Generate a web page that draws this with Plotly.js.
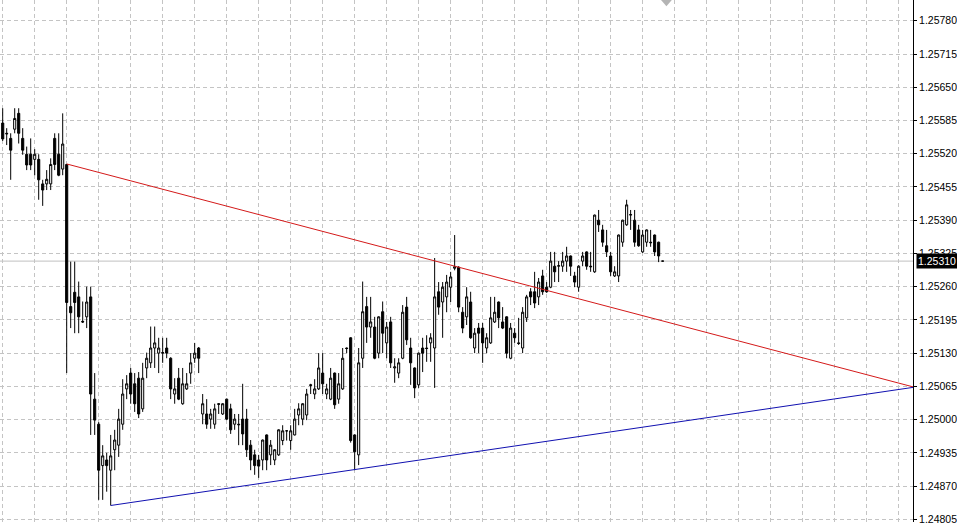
<!DOCTYPE html>
<html>
<head>
<meta charset="utf-8">
<script src="https://cdn.plot.ly/plotly-3.0.1.min.js"></script>
<style>
  html, body { margin: 0; padding: 0; background: #ffffff; }
  #chart { width: 957px; height: 524px; }
</style>
</head>
<body>
<div id="chart"></div>
<script>
// ---- DATA ----
const openPrices = [
1.25580,1.25560,1.25550,1.25568,1.25599,1.25550,1.25519,1.25519,1.25509,1.25509,
1.25461,1.25461,1.25461,1.25550,1.25519,1.25490,1.25499,1.25221,1.25249,1.25240,
1.25192,1.25201,1.25240,1.25040,1.24991,1.24910,1.24921,1.24901,1.24941,1.24950,
1.24991,1.25060,1.25091,1.25070,1.25081,1.25021,1.25101,1.25111,1.25140,1.25130,
1.25130,1.25140,1.25120,1.25050,1.25081,1.25031,1.25060,1.25091,1.25120,1.25140,
1.25011,1.25011,1.25001,1.24991,1.25031,1.25011,1.25040,1.25021,1.24991,1.24991,
1.25001,1.25001,1.24950,1.24931,1.24921,1.24921,1.24970,1.24931,1.24921,1.24931,
1.24959,1.24978,1.24959,1.24970,1.25009,1.25001,1.25009,1.25068,1.25050,1.25060,
1.25091,1.25050,1.25040,1.25091,1.25040,1.25060,1.25140,1.25160,1.24970,1.24931,
1.25120,1.25221,1.25181,1.25181,1.25130,1.25211,1.25150,1.25191,1.25101,1.25091,
1.25120,1.25220,1.25140,1.25101,1.25068,1.25140,1.25140,1.25150,1.25140,1.25250,
1.25230,1.25240,1.25259,1.25296,1.25298,1.25210,1.25201,1.25230,1.25140,1.25179,
1.25179,1.25140,1.25150,1.25191,1.25230,1.25191,1.25201,1.25120,1.25169,1.25150,
1.25140,1.25199,1.25250,1.25250,1.25240,1.25281,1.25259,1.25259,1.25300,1.25300,
1.25300,1.25310,1.25320,1.25281,1.25259,1.25310,1.25328,1.25300,1.25289,1.25390,
1.25371,1.25340,1.25320,1.25281,1.25281,1.25347,1.25381,1.25400,1.25390,1.25371,
1.25328,1.25347,1.25347,1.25361,1.25347,1.25310];
const highPrices = [
1.25609,1.25570,1.25560,1.25609,1.25609,1.25570,1.25534,1.25550,1.25529,1.25519,
1.25469,1.25488,1.25511,1.25560,1.25560,1.25599,1.25500,1.25309,1.25309,1.25270,
1.25231,1.25260,1.25260,1.25091,1.24995,1.24950,1.24935,1.24970,1.24980,1.25021,
1.25079,1.25087,1.25101,1.25091,1.25093,1.25111,1.25131,1.25182,1.25182,1.25160,
1.25160,1.25160,1.25122,1.25081,1.25101,1.25101,1.25091,1.25130,1.25150,1.25142,
1.25050,1.25040,1.25021,1.25031,1.25032,1.25032,1.25041,1.25031,1.25011,1.25011,
1.25070,1.25021,1.24960,1.24941,1.24931,1.24961,1.24971,1.24960,1.24942,1.24981,
1.24989,1.24979,1.24989,1.25021,1.25032,1.25032,1.25060,1.25070,1.25079,1.25130,
1.25130,1.25070,1.25101,1.25092,1.25091,1.25140,1.25141,1.25161,1.24971,1.25140,
1.25270,1.25240,1.25240,1.25201,1.25202,1.25231,1.25191,1.25201,1.25120,1.25120,
1.25224,1.25240,1.25160,1.25102,1.25131,1.25160,1.25165,1.25169,1.25316,1.25269,
1.25269,1.25283,1.25289,1.25361,1.25300,1.25220,1.25259,1.25250,1.25179,1.25189,
1.25189,1.25169,1.25240,1.25240,1.25231,1.25220,1.25202,1.25189,1.25179,1.25199,
1.25220,1.25244,1.25257,1.25289,1.25277,1.25293,1.25269,1.25328,1.25328,1.25310,
1.25328,1.25338,1.25321,1.25289,1.25302,1.25328,1.25329,1.25328,1.25401,1.25410,
1.25381,1.25371,1.25328,1.25300,1.25362,1.25391,1.25430,1.25410,1.25410,1.25381,
1.25371,1.25372,1.25371,1.25362,1.25348,1.25310];
const lowPrices = [
1.25545,1.25537,1.25469,1.25560,1.25540,1.25518,1.25488,1.25488,1.25478,1.25430,
1.25418,1.25449,1.25449,1.25488,1.25476,1.25478,1.25091,1.25179,1.25169,1.25169,
1.25189,1.25179,1.24970,1.24970,1.24843,1.24843,1.24859,1.24832,1.24901,1.24927,
1.24980,1.25040,1.25031,1.25015,1.25003,1.25015,1.25081,1.25101,1.25101,1.25091,
1.25111,1.25120,1.25040,1.25031,1.25038,1.25029,1.25058,1.25070,1.25111,1.25091,
1.24991,1.24982,1.24982,1.24982,1.25011,1.25009,1.24999,1.24972,1.24980,1.24950,
1.24950,1.24927,1.24901,1.24892,1.24886,1.24901,1.24901,1.24911,1.24911,1.24929,
1.24950,1.24959,1.24941,1.24969,1.24989,1.24989,1.24999,1.25050,1.25040,1.25058,
1.25050,1.25040,1.25038,1.25021,1.25031,1.25058,1.25130,1.24955,1.24901,1.24911,
1.25101,1.25150,1.25160,1.25118,1.25120,1.25130,1.25120,1.25101,1.25072,1.25081,
1.25118,1.25146,1.25068,1.25042,1.25062,1.25093,1.25113,1.25113,1.25062,1.25205,
1.25160,1.25210,1.25230,1.25292,1.25210,1.25169,1.25185,1.25158,1.25130,1.25130,
1.25111,1.25130,1.25148,1.25189,1.25179,1.25177,1.25120,1.25118,1.25150,1.25146,
1.25130,1.25191,1.25224,1.25218,1.25224,1.25244,1.25248,1.25257,1.25269,1.25269,
1.25289,1.25289,1.25281,1.25259,1.25250,1.25300,1.25293,1.25289,1.25287,1.25367,
1.25338,1.25318,1.25281,1.25279,1.25269,1.25338,1.25379,1.25371,1.25338,1.25338,
1.25326,1.25338,1.25338,1.25320,1.25308,1.25310];
const closePrices = [
1.25549,1.25559,1.25527,1.25589,1.25560,1.25527,1.25498,1.25498,1.25519,1.25469,
1.25449,1.25470,1.25499,1.25499,1.25478,1.25539,1.25229,1.25209,1.25229,1.25201,
1.25191,1.25230,1.25050,1.24999,1.24901,1.24929,1.24910,1.24929,1.24960,1.25001,
1.25050,1.25070,1.25050,1.25031,1.25011,1.25081,1.25120,1.25140,1.25150,1.25140,
1.25131,1.25130,1.25060,1.25060,1.25040,1.25070,1.25070,1.25111,1.25130,1.25120,
1.25031,1.24991,1.25011,1.25021,1.25030,1.25031,1.25001,1.24980,1.25001,1.24990,
1.24972,1.24941,1.24921,1.24910,1.24909,1.24960,1.24921,1.24950,1.24941,1.24980,
1.24978,1.24978,1.24978,1.25001,1.25021,1.25031,1.25050,1.25067,1.25060,1.25101,
1.25070,1.25060,1.25081,1.25029,1.25070,1.25120,1.25139,1.24959,1.24937,1.25111,
1.25211,1.25181,1.25191,1.25120,1.25201,1.25169,1.25181,1.25111,1.25103,1.25111,
1.25210,1.25156,1.25111,1.25062,1.25130,1.25130,1.25139,1.25160,1.25240,1.25220,
1.25259,1.25269,1.25279,1.25299,1.25220,1.25179,1.25240,1.25160,1.25169,1.25169,
1.25150,1.25160,1.25199,1.25210,1.25199,1.25179,1.25130,1.25179,1.25160,1.25149,
1.25210,1.25240,1.25240,1.25228,1.25269,1.25250,1.25250,1.25310,1.25289,1.25301,
1.25310,1.25320,1.25300,1.25269,1.25300,1.25320,1.25300,1.25299,1.25400,1.25381,
1.25347,1.25328,1.25289,1.25289,1.25361,1.25390,1.25420,1.25401,1.25347,1.25340,
1.25361,1.25371,1.25346,1.25328,1.25320,1.25310];

// price-axis tick labels
const priceTicks = ["1.24805","1.24870","1.24935","1.25000","1.25065","1.25130","1.25195",
  "1.25260","1.25325","1.25390","1.25455","1.25520","1.25585","1.25650","1.25715","1.25780"];

// trend lines (bar index, price)
const redTrendBars = [16, 227.6];
const redTrendPrices = [1.25500, 1.25064];
const blueTrendBars = [27, 227.6];
const blueTrendPrices = [1.24832, 1.25063];

const bidPrice = 1.25310;

// ---- CHART ----
const barIndex = openPrices.map((_, i) => i);

const candles = {
  type: 'candlestick',
  x: barIndex,
  open: openPrices, high: highPrices, low: lowPrices, close: closePrices,
  increasing: { line: { color: '#000000', width: 1 }, fillcolor: '#ffffff' },
  decreasing: { line: { color: '#000000', width: 1 }, fillcolor: '#000000' },
  whiskerwidth: 0,
  hoverinfo: 'skip',
  showlegend: false
};
const redLine = {
  type: 'scatter', mode: 'lines', x: redTrendBars, y: redTrendPrices,
  line: { color: '#d41a1a', width: 1 }, hoverinfo: 'skip', showlegend: false, cliponaxis: false
};
const blueLine = {
  type: 'scatter', mode: 'lines', x: blueTrendBars, y: blueTrendPrices,
  line: { color: '#1010b0', width: 1 }, hoverinfo: 'skip', showlegend: false, cliponaxis: false
};

const layout = {
  width: 957, height: 524,
  margin: { l: 0, r: 44, t: 0, b: 2, pad: 0 },
  paper_bgcolor: '#ffffff', plot_bgcolor: '#ffffff',
  showlegend: false,
  boxgap: 0.25,
  xaxis: {
    type: 'linear',
    range: [-0.675, 227.6],
    tick0: 0, dtick: 8,
    showgrid: true, gridcolor: '#c4c4c4', griddash: '4px,3px', gridwidth: 1,
    showticklabels: false, ticks: '', zeroline: false, showline: false,
    rangeslider: { visible: false }, fixedrange: true
  },
  yaxis: {
    side: 'right',
    range: [1.247997, 1.258207],
    tickmode: 'array',
    tickvals: priceTicks.map(Number),
    ticktext: priceTicks,
    showgrid: true, gridcolor: '#c4c4c4', griddash: '4px,3px', gridwidth: 1,
    zeroline: false,
    showline: true, linecolor: '#000000', linewidth: 1,
    ticks: 'outside', ticklen: 3, tickcolor: '#000000', tickwidth: 1,
    ticklabeloverflow: 'allow',
    tickfont: { family: 'Liberation Sans, Arial, sans-serif', size: 10.5, color: '#000000' },
    fixedrange: true
  },
  shapes: [
    { type: 'line', xref: 'paper', yref: 'y', x0: 0, x1: 1, y0: bidPrice, y1: bidPrice,
      line: { color: '#c0c0c0', width: 1 }, layer: 'below' },
    { type: 'path', xref: 'x', yref: 'paper',
      path: 'M 164.6 1 L 167.3 1 L 165.95 0.988 Z',
      fillcolor: '#b4b4b4', line: { width: 0 } }
  ],
  annotations: [
    { xref: 'paper', yref: 'y', x: 1, y: bidPrice, xanchor: 'left', yanchor: 'middle',
      xshift: 3, text: bidPrice.toFixed(5), showarrow: false,
      bgcolor: '#000000', borderpad: 1,
      font: { family: 'Liberation Sans, Arial, sans-serif', size: 10.5, color: '#ffffff' } }
  ]
};

Plotly.newPlot('chart', [candles, redLine, blueLine], layout, { staticPlot: true, displayModeBar: false });
</script>
</body>
</html>
